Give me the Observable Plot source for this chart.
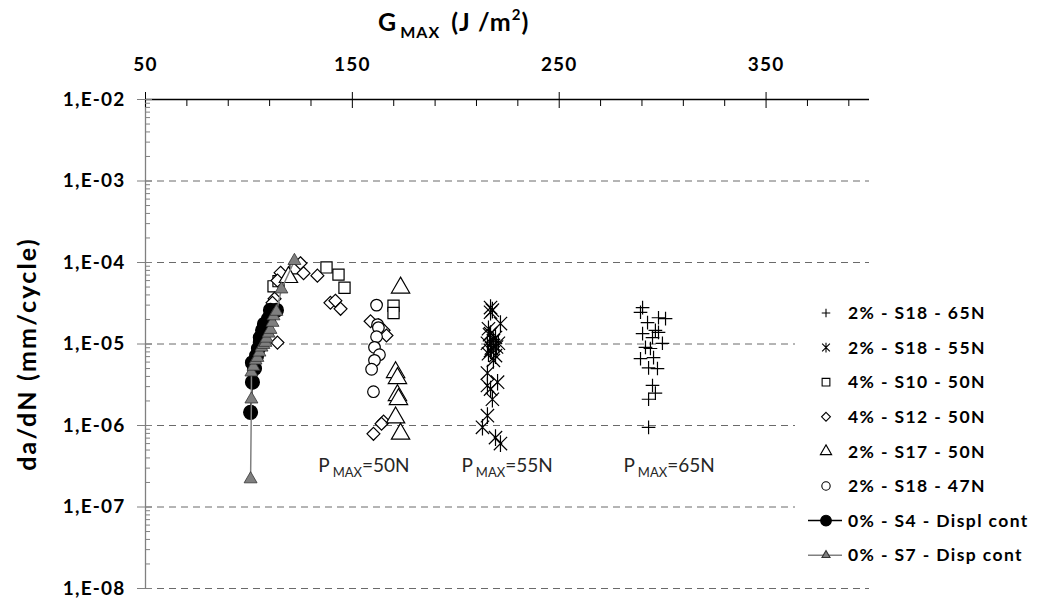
<!DOCTYPE html>
<html><head><meta charset="utf-8">
<script src="https://cdn.jsdelivr.net/npm/d3@7"></script>
<script src="https://cdn.jsdelivr.net/npm/@observablehq/plot@0.6"></script>
<style>
body{margin:0;background:#fff;}
#wrap{position:relative;width:1049px;height:603px;font-family:Lato,"Open Sans",sans-serif;color:#000;overflow:hidden;}
#chart svg{position:absolute;left:0;top:0;}
#chart svg [aria-label$="tick label"] text{font-weight:700;letter-spacing:1.2px;}
.xtitle{position:absolute;top:6px;left:378px;font-weight:700;font-size:25px;letter-spacing:1px;white-space:nowrap;}
.xtitle .sub{font-size:16px;position:relative;top:7px;margin:0 4px 0 3px;}
.xtitle .sup{font-size:15px;position:relative;top:-11px;}
.ytitle{position:absolute;left:26px;top:354px;transform:translate(-50%,-50%) rotate(-90deg);font-weight:700;font-size:25px;letter-spacing:2.2px;white-space:nowrap;}
#legend{position:absolute;left:795px;top:292px;}
</style>
</head><body>
<div id="wrap">
  <div id="chart"></div>
  <div class="xtitle">G<span class="sub">MAX</span> (J /m<span class="sup">2</span>)</div>
  <div class="ytitle">da/dN (mm/cycle)</div>
  <svg id="legend" width="254" height="280"></svg>
</div>
<script>
// ---------- data ----------
const seriesNames = ["2% - S18 - 65N","2% - S18 - 55N","4% - S10 - 50N","4% - S12 - 50N","2% - S17 - 50N","2% - S18 - 47N","0% - S4 - Displ cont","0% - S7 - Disp cont"];

const s65G = [290.3,289.3,292.7,298.0,301.4,290.3,296.5,295.1,298.0,299.9,291.7,294.1,289.3,295.6,293.2,297.5,295.1,296.5,293.2,293.2];
const s65V = [2.8e-5,2.45e-5,1.83e-5,2.1e-5,2.05e-5,1.34e-5,1.47e-5,1.2e-5,1.39e-5,1.02e-5,9.1e-6,8.8e-6,6.6e-6,6.8e-6,5.1e-6,5.0e-6,3.1e-6,2.5e-6,2.1e-6,9.5e-7];

const s55G = [216.8,216.8,221.6,215.8,216.8,219.2,215.3,218.2,220.6,216.8,215.8,219.2,218.2,215.3,220.2,215.3,216.8,217.7,215.3,212.9,219.2,221.6,217.7,218.2,217.2,219.7,216.3];
const s55V = [2.8e-5,2.45e-5,1.78e-5,1.54e-5,1.34e-5,1.2e-5,1.02e-5,9.6e-6,1.02e-5,8.3e-6,7.6e-6,7.2e-6,6.3e-6,4.4e-6,3.4e-6,3.1e-6,2.8e-6,2.1e-6,1.32e-6,9.5e-7,7.1e-7,6.0e-7,2.6e-5,1.1e-5,8.9e-6,9.2e-6,1.3e-5];

const s10G = [111.9,114.3,122.5,137.5,143.3,146.2,169.9,169.9];
const s10V = [5.1e-5,5.9e-5,8.5e-5,8.7e-5,7.1e-5,4.9e-5,2.95e-5,2.4e-5];

const s12G = [115.3,113.8,112.4,111.4,113.8,124.9,126.4,133.1,139.4,141.8,144.3,158.8,162.6,165.1,166.5,165.1,164.1,160.2];
const s12V = [7.5e-5,6.0e-5,3.6e-5,3.2e-5,1.04e-5,9.8e-5,7.4e-5,6.9e-5,3.2e-5,3.4e-5,2.7e-5,1.9e-5,1.7e-5,1.47e-5,1.27e-5,1.12e-6,1.05e-6,7.9e-7];

const s17G = [119.1,173.3,170.9,171.8,171.8,172.3,170.9,173.3];
const s17V = [6.6e-5,4.9e-5,4.5e-6,3.8e-6,2.35e-6,2.1e-6,1.25e-6,7.9e-7];

const s47G = [161.7,162.2,162.6,161.7,160.7,163.1,160.7,159.3,160.2];
const s47V = [3.0e-5,1.73e-5,1.59e-5,1.23e-5,9.1e-6,7.4e-6,6.3e-6,4.9e-6,2.6e-6];

const s4G = [100.8,101.7,102.7,101.7,103.7,104.6,105.5,105.5,106.6,107.5,109.5,110.4,113.3];
const s4V = [1.45e-6,3.4e-6,5.0e-6,5.9e-6,7.2e-6,8.8e-6,1.04e-5,1.2e-5,1.47e-5,1.75e-5,2.05e-5,2.6e-5,2.6e-5];

const s7G = [100.8,101.2,101.2,102.2,103.2,104.1,105.1,106.1,107.0,108.0,108.5,109.5,110.4,111.4,111.9,113.3,115.7,122.0];
const s7V = [2.2e-7,2.1e-6,4.5e-6,5.3e-6,6.3e-6,6.8e-6,7.9e-6,9.1e-6,9.8e-6,1.04e-5,1.17e-5,1.35e-5,1.5e-5,1.83e-5,2.2e-5,2.5e-5,4.7e-5,1.05e-4];

// annotations
const annG = [155.6,224.8,303.1];
const annV = [3.2e-7,3.2e-7,3.2e-7];
const annText = ["=50N","=55N","=65N"];

// ticks
const xMajor = [50,150,250,350];
const xMinor = [70,90,110,130,170,190,210,230,270,290,310,330,370,390];
const yMajor = [1e-8,1e-7,1e-6,1e-5,1e-4,1e-3,1e-2];
const yTickLabels = ["1,E-08","1,E-07","1,E-06","1,E-05","1,E-04","1,E-03","1,E-02"];
const yGrid = [1e-8,1e-7,1e-6,1e-5,1e-4,1e-3];
const yMinor = [];
for (let e = -8; e < -2; e++) for (let m = 2; m <= 9; m++) yMinor.push(m * Math.pow(10, e));

// ---------- helpers ----------
const zip = (G, V) => G.map((g, i) => ({g, v: V[i]}));
const plusSym = {draw(c, size){ const h = Math.sqrt(size) * 0.55; c.moveTo(-h,0); c.lineTo(h,0); c.moveTo(0,-h); c.lineTo(0,h); }};
const starSym = {draw(c, size){ const h = Math.sqrt(size) * 0.5; c.moveTo(-h,-h); c.lineTo(h,h); c.moveTo(-h,h); c.lineTo(h,-h); c.moveTo(0,-h*1.25); c.lineTo(0,h*1.25); }};

const plot = Plot.plot({
  width: 1049, height: 603,
  marginLeft: 145, marginRight: 180, marginTop: 99, marginBottom: 15,
  style: {fontFamily: "Lato, 'Open Sans', sans-serif", fontSize: "19px", background: "transparent", overflow: "visible"},
  x: {domain: [50, 400], axis: null},
  y: {type: "log", domain: [1e-8, 1e-2], axis: null},
  marks: [
    Plot.ruleY(yGrid, {stroke: "#6a6a6a", strokeDasharray: "7,5", strokeWidth: 1}),
    Plot.ruleX([50], {stroke: "#808080", strokeWidth: 1.3}),
    Plot.ruleY([1e-2], {stroke: "#000", strokeWidth: 1.3}),
    // x axis (top)
    Plot.axisX(xMajor, {anchor: "top", tickSize: 0, tickPadding: 29, tickFormat: d => String(d), label: null, fontSize: 19}),
    Plot.axisX(xMajor, {anchor: "top", tickSize: 16, dy: 8, fill: "none", stroke: "#000", label: null}),
    Plot.axisX(xMinor, {anchor: "top", tickSize: 6, dy: 6, fill: "none", stroke: "#000", label: null}),
    // y axis (left)
    Plot.axisY(yMajor, {anchor: "left", tickSize: 0, tickPadding: 20, tickFormat: d => yTickLabels[yMajor.indexOf(d)], label: null, fontSize: 19}),
    Plot.axisY(yMajor, {anchor: "left", tickSize: 15, dx: 7, fill: "none", stroke: "#808080", label: null}),
    Plot.axisY(yMinor, {anchor: "left", tickSize: 5, dx: 5, fill: "none", stroke: "#808080", label: null}),
    // series
    Plot.dot(zip(s65G, s65V), {x: "g", y: "v", symbol: plusSym, r: 7, fill: "none", stroke: "#000", strokeWidth: 1.2}),
    Plot.dot(zip(s55G, s55V), {x: "g", y: "v", symbol: starSym, r: 7.5, fill: "none", stroke: "#000", strokeWidth: 1.2}),
    Plot.dot(zip(s10G, s10V), {x: "g", y: "v", symbol: "square", r: 6.3, fill: "#fff", stroke: "#000", strokeWidth: 1.2}),
    Plot.dot(zip(s12G, s12V), {x: "g", y: "v", symbol: "diamond2", r: 5.8, fill: "#fff", stroke: "#000", strokeWidth: 1.2}),
    Plot.dot(zip(s17G, s17V), {x: "g", y: "v", symbol: "triangle", r: 6.8, fill: "#fff", stroke: "#000", strokeWidth: 1.2}),
    Plot.dot(zip(s47G, s47V), {x: "g", y: "v", symbol: "circle", r: 5.8, fill: "#fff", stroke: "#000", strokeWidth: 1.2}),
    Plot.line(zip(s4G, s4V), {x: "g", y: "v", stroke: "#000", strokeWidth: 1.5}),
    Plot.dot(zip(s4G, s4V), {x: "g", y: "v", symbol: "circle", r: 6.8, fill: "#000", stroke: "#000"}),
    Plot.line(zip(s7G, s7V), {x: "g", y: "v", stroke: "#808080", strokeWidth: 1.5}),
    Plot.dot(zip(s7G, s7V), {x: "g", y: "v", symbol: "triangle", r: 4.8, fill: "#7f7f7f", stroke: "#333", strokeWidth: 0.8}),
    // annotations
    Plot.text(annG.map((g, i) => ({g, v: annV[i], t: annText[i]})), {x: "g", y: "v", text: "t", className: "pmax", fontSize: 19, fill: "#262626", textAnchor: "middle"})
  ]
});
document.getElementById("chart").appendChild(plot);

// rich text for P_MAX annotations
d3.select(plot).selectAll(".pmax text").each(function() {
  const t = d3.select(this);
  const rest = t.text();
  t.text(null);
  t.append("tspan").text("P");
  t.append("tspan").attr("font-size", 13).attr("dy", 5).attr("dx", 3).text("MAX");
  t.append("tspan").attr("dy", -5).text(rest);
});

// ---------- legend ----------
const lg = d3.select("#legend");
lg.append("rect").attr("width", 254).attr("height", 280).attr("fill", "#fff");
const lgSyms = [
  {sym: plusSym, size: 60, fill: "none", stroke: "#000"},
  {sym: starSym, size: 60, fill: "none", stroke: "#000"},
  {sym: d3.symbolSquare, size: 60, fill: "#fff", stroke: "#000"},
  {sym: d3.symbolDiamond2, size: 50, fill: "#fff", stroke: "#000"},
  {sym: d3.symbolTriangle, size: 55, fill: "#fff", stroke: "#000"},
  {sym: d3.symbolCircle, size: 55, fill: "#fff", stroke: "#000"},
  {sym: d3.symbolCircle, size: 90, fill: "#000", stroke: "#000", line: "#000"},
  {sym: d3.symbolTriangle, size: 28, fill: "#7f7f7f", stroke: "#333", line: "#808080"}
];
seriesNames.forEach((name, i) => {
  const cy = 21 + i * 34.6;
  const s = lgSyms[i];
  const g = lg.append("g").attr("transform", `translate(31,${cy})`);
  if (s.line) g.append("line").attr("x1", -18).attr("x2", 16).attr("stroke", s.line).attr("stroke-width", 1.5);
  g.append("path").attr("d", d3.symbol(s.sym, s.size)()).attr("fill", s.fill).attr("stroke", s.stroke).attr("stroke-width", 1.1);
  lg.append("text").attr("x", 53).attr("y", cy).attr("dy", "0.35em")
    .attr("font-family", "Lato, 'Open Sans', sans-serif").attr("font-size", 17.5).attr("font-weight", 700)
    .attr("letter-spacing", "1.4px")
    .text(name);
});
</script>
</body></html>
